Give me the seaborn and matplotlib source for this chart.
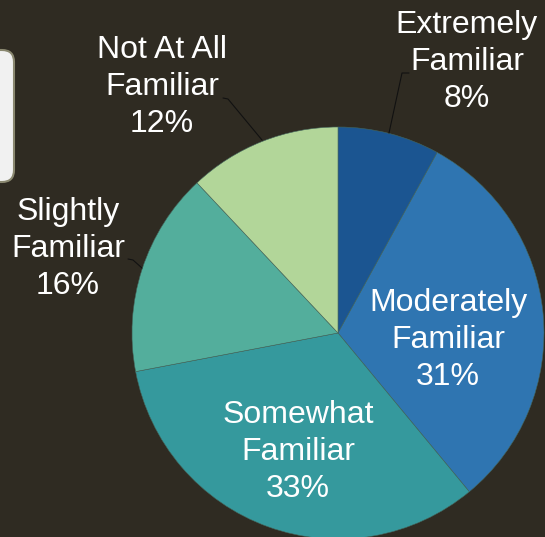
import matplotlib
matplotlib.use("Agg")
import matplotlib.pyplot as plt
from matplotlib.patches import FancyBboxPatch
import seaborn as sns

# Familiarity survey shares (percent), in clockwise order from 12 o'clock
categories = ["Extremely\nFamiliar", "Moderately\nFamiliar", "Somewhat\nFamiliar",
              "Slightly\nFamiliar", "Not At All\nFamiliar"]
shares = [8, 31, 33, 16, 12]
colors = ["#1b5591", "#2f75b1", "#35999d", "#53ae9c", "#b2d699"]

# Label anchor points (pixel space, y down) and leader lines
label_pos = [(467, 62), (448, 340), (298, 452), (68, 249), (162, 87)]
leaders = {
    0: [(409, 73), (402, 73), (389, 133)],
    3: [(128, 259), (133, 260), (142, 268)],
    4: [(223, 98), (228, 99), (262, 140)],
}

W, H = 545, 537
BG = "#2f2b22"

sns.set_style("white")
plt.rcParams["font.family"] = ["Liberation Sans", "DejaVu Sans"]

fig = plt.figure(figsize=(W / 100, H / 100), dpi=100, facecolor=BG)
ax = fig.add_axes([0, 0, 1, 1])
ax.set_facecolor(BG)

cx, cy, r = 338, H - 333, 206
ax.pie(shares, colors=colors, startangle=90, counterclock=False,
       center=(cx, cy), radius=r, frame=True,
       wedgeprops=dict(edgecolor="#44665c", linewidth=0.4))
ax.set_xlim(0, W)
ax.set_ylim(0, H)
ax.set_aspect("equal")
ax.axis("off")

for i, (name, val) in enumerate(zip(categories, shares)):
    x, y = label_pos[i]
    ax.text(x, H - y, f"{name}\n{val}%", ha="center", va="center",
            color="white", fontsize=23, linespacing=1.3)

for pts in leaders.values():
    xs = [p[0] for p in pts]
    ys = [H - p[1] for p in pts]
    ax.plot(xs, ys, color="#111111", lw=0.8)

# Partially visible legend panel at the left edge
panel = FancyBboxPatch((-40, H - 182), 54, 132,
                       boxstyle="round,pad=0,rounding_size=12",
                       facecolor="#f1f1f1", edgecolor="#8a8870", lw=1.5,
                       clip_on=False)
ax.add_patch(panel)

fig.savefig("out.png", dpi=100, facecolor=BG)
